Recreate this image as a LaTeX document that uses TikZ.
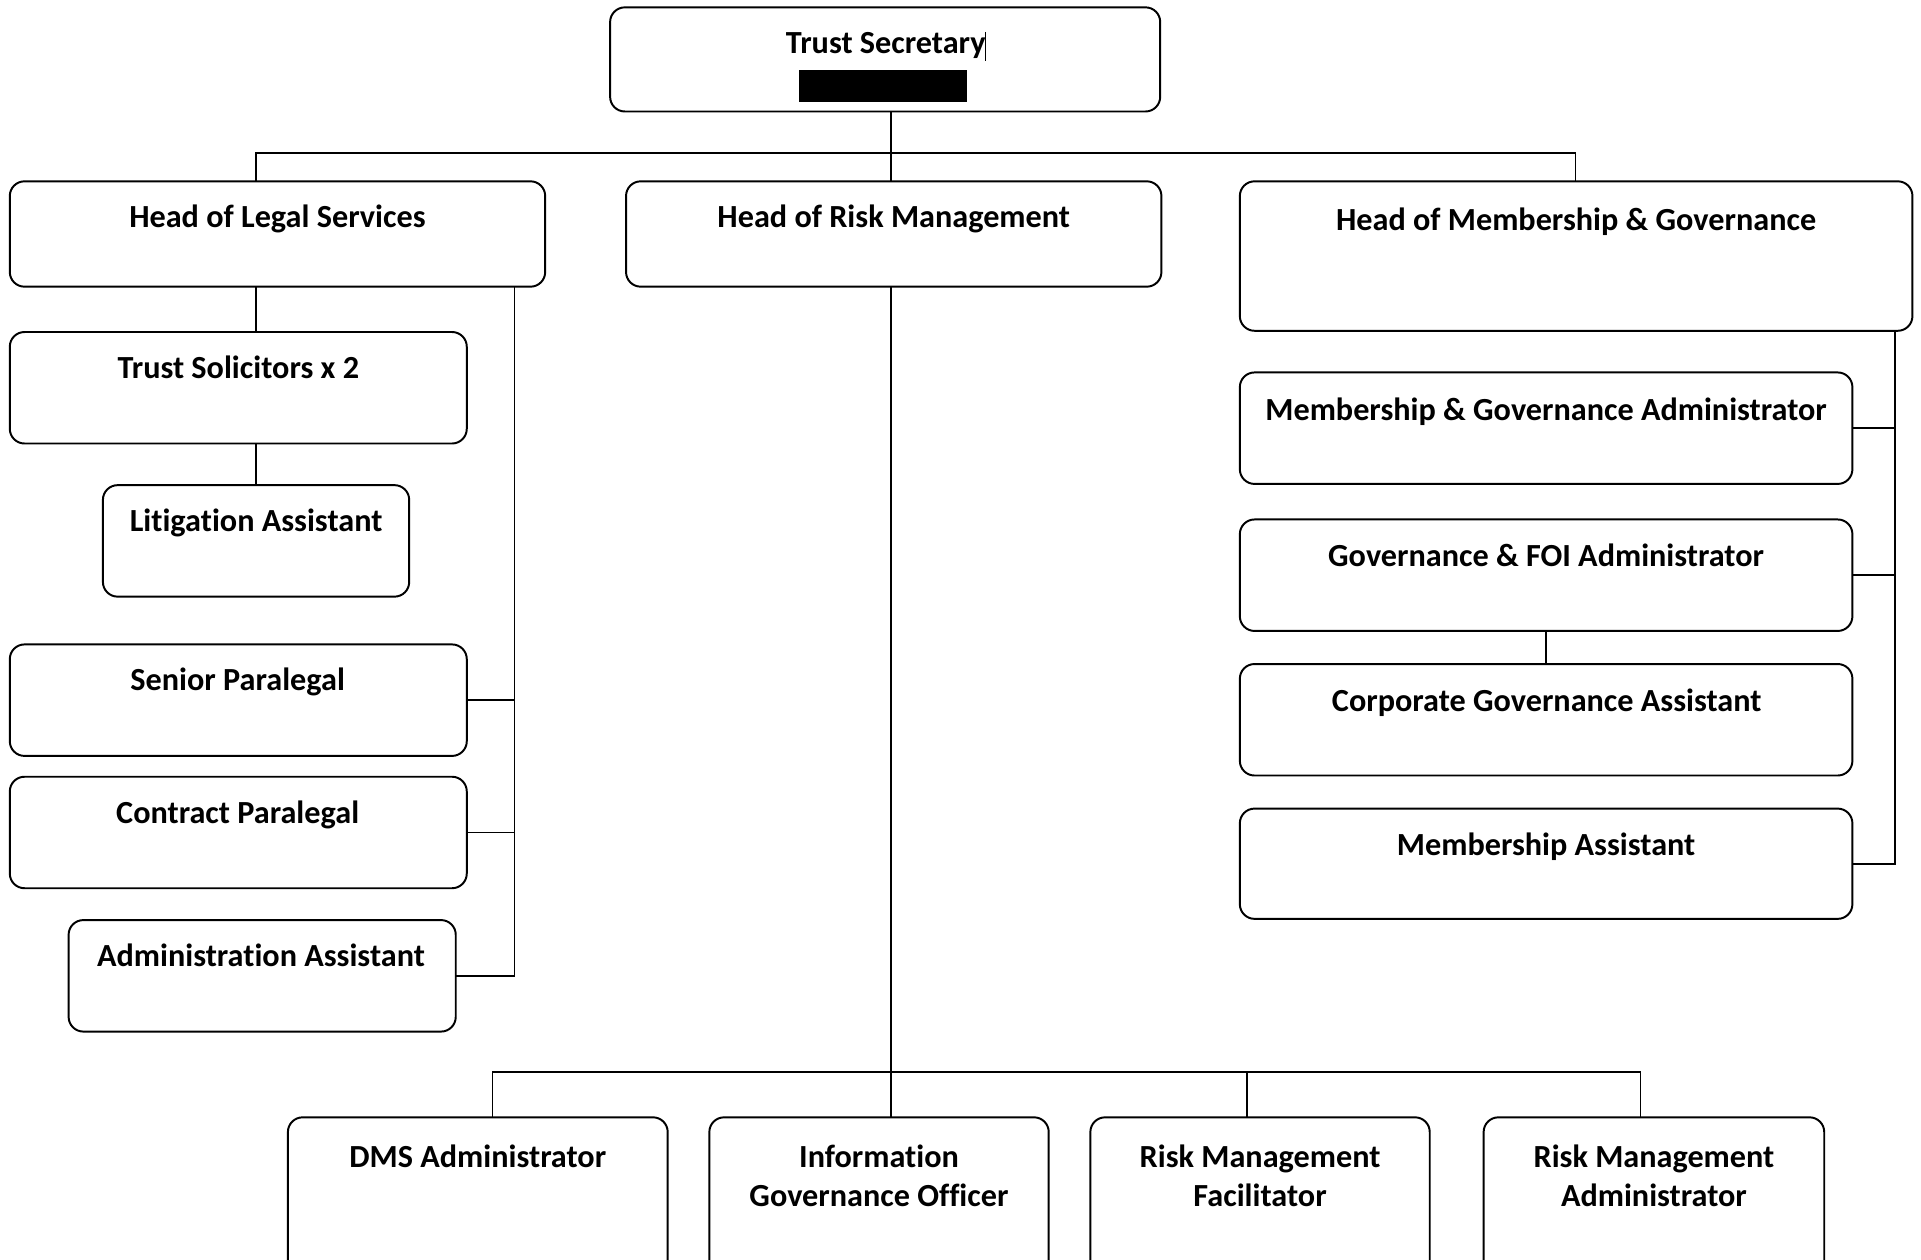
\documentclass[tikz,border=0pt]{standalone}
\usepackage{fontspec}
\setmainfont{Carlito}[Ligatures={NoCommon}]
\begin{document}
\begin{tikzpicture}[x=1pt,y=-1pt,
  box/.style={draw=black, line width=1.6pt, rounded corners=12pt, inner sep=0pt, outer sep=0pt, anchor=north west},
  lbl/.style={font=\fontsize{26.3}{32}\selectfont\bfseries, inner sep=0pt, anchor=base, align=center},
  conn/.style={draw=black, line width=1.5pt}]
\newcommand{\orgbox}[5]{\node[box, minimum width={(#4-#2)*1pt}, minimum height={(#5-#3)*1pt}] (#1) at (#2,#3) {};}
\useasboundingbox (0,0) rectangle (1568,1028);
\clip (0,0) rectangle (1568,1028);
% boxes
\orgbox{ts}{498}{6}{947}{91}
\orgbox{hl}{8}{148}{445}{234}
\orgbox{hr}{511}{148}{948}{234}
\orgbox{hm}{1012}{148}{1561}{270}
\orgbox{sol}{8}{271}{381}{362}
\orgbox{lit}{84}{396}{334}{487}
\orgbox{sp}{8}{526}{381}{617}
\orgbox{cp}{8}{634}{381}{725}
\orgbox{adm}{56}{751}{372}{842}
\orgbox{mga}{1012}{304}{1512}{395}
\orgbox{foi}{1012}{424}{1512}{515}
\orgbox{cga}{1012}{542}{1512}{633}
\orgbox{ma}{1012}{660}{1512}{750}
\orgbox{dms}{235}{912}{545}{1045}
\orgbox{igo}{579}{912}{856}{1045}
\orgbox{rmf}{890}{912}{1167}{1045}
\orgbox{rma}{1211}{912}{1489}{1045}
% texts
\node[lbl] (ts-t) at (723,44) {Trust Secretary};
\fill[black] (652,57) rectangle (789,83);
\draw[line width=0.8pt] (804.5,26) -- (804.5,50);
\node[lbl] (hl-t) at (226.5,186) {Head of Legal Services};
\node[lbl] (hr-t) at (729.5,186) {Head of Risk Management};
\node[lbl] (hm-t) at (1286.5,188) {Head of Membership \& Governance};
\node[lbl] (sol-t) at (194.5,309) {Trust Solicitors x 2};
\node[lbl] (lit-t) at (209,434) {Litigation Assistant};
\node[lbl] (sp-t) at (194,564) {Senior Paralegal};
\node[lbl] (cp-t) at (194,672) {Contract Paralegal};
\node[lbl] (adm-t) at (213,789) {Administration Assistant};
\node[lbl] (mga-t) at (1262,343) {Membership \& Governance Administrator};
\node[lbl] (foi-t) at (1262,462) {Governance \& FOI Administrator};
\node[lbl] (cga-t) at (1262.5,581) {Corporate Governance Assistant};
\node[lbl] (ma-t) at (1262,698) {Membership Assistant};
\node[lbl] (dms-t) at (390,953) {DMS Administrator};
\node[lbl] (igo-t) at (717.5,985) {Information\\Governance Officer};
\node[lbl] (rmf-t) at (1028.5,985) {Risk Management\\Facilitator};
\node[lbl] (rma-t) at (1350,985) {Risk Management\\Administrator};
% connectors
\coordinate (bL) at (209,125);
\coordinate (bM) at (727,125);
\coordinate (bR) at (1286,125);
\draw[conn] (bM |- ts.south) -- (bM);
\draw[conn] (bL |- hl.north) -- (bL) -- (bR) -- (bR |- hm.north);
\draw[conn] (bM) -- (bM |- hr.north);
% legal
\draw[conn] (bL |- hl.south) -- (bL |- sol.north);
\draw[conn] (bL |- sol.south) -- (bL |- lit.north);
\coordinate (lr) at (420,0);
\draw[conn] (lr |- hl.south) -- (lr |- adm.east) -- (adm.east);
\draw[conn] (sp.east) -- (lr |- sp.east);
\draw[conn] (cp.east) -- (lr |- cp.east);
% membership
\coordinate (rr) at (1547,0);
\draw[conn] (rr |- hm.south) -- (rr |- ma.east) -- (ma.east);
\draw[conn] (mga.east) -- (rr |- mga.east);
\draw[conn] (foi.east) -- (rr |- foi.east);
\draw[conn] (foi.south) -- (cga.north);
% risk
\coordinate (d1) at (402,875);
\coordinate (d3) at (1018,875);
\coordinate (d4) at (1339,875);
\draw[conn] (bM |- hr.south) -- (bM |- igo.north);
\draw[conn] (d1 |- dms.north) -- (d1) -- (d4) -- (d4 |- rma.north);
\draw[conn] (d3) -- (d3 |- rmf.north);
\end{tikzpicture}
\end{document}
